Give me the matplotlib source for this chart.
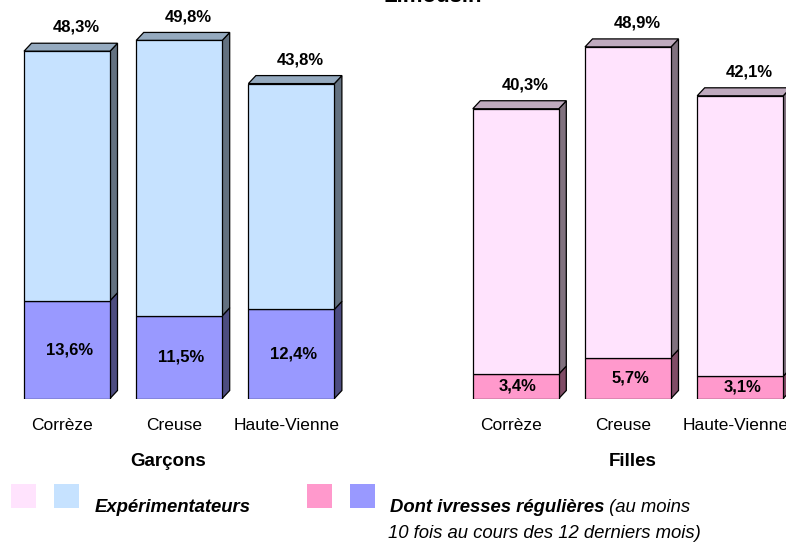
import matplotlib.pyplot as plt
from matplotlib.patches import Polygon, Rectangle

plt.rcParams['font.family'] = ['Liberation Sans', 'DejaVu Sans']

# Données : Limousin, expérimentateurs et ivresses régulières (en %)
departements = ['Corrèze', 'Creuse', 'Haute-Vienne']
garcons_exp = [48.3, 49.8, 43.8]
garcons_ivr = [13.6, 11.5, 12.4]
filles_exp = [40.3, 48.9, 42.1]
filles_ivr = [3.4, 5.7, 3.1]

pos_garcons = [0, 1, 2]
pos_filles = [4, 5, 6]

# couleurs face / côté / dessus
bleu = ('#C6E2FF', '#637180', '#95AABF')
violet = ('#9999FF', '#4C4C80', '#7373BF')
rose_clair = ('#FFE3FD', '#80717E', '#BFAABE')
rose = ('#FF99CC', '#804C66', '#BF7399')

W, H = 786, 543
fig = plt.figure(figsize=(W / 100, H / 100), dpi=100)

px_y = 7.19          # pixels par %
base = 398.5         # bas des barres (px depuis le haut)
pas = 112.2          # pixels entre deux barres
x0 = 67.0            # centre de la première barre
ax = fig.add_axes([0, (H - base) / H, 1, base / H])
ax.set_xlim(-x0 / pas, (W - x0) / pas)
ax.set_ylim(0, base / px_y)
ax.axis('off')

largeur = 86 / pas
dx = 7.5 / pas
dy = 8 / px_y


def barre3d(x, y0, y1, couleurs, dessus):
    face, cote, haut = couleurs
    ax.bar(x, y1 - y0, bottom=y0, width=largeur, color=face,
           edgecolor='black', linewidth=0.9, zorder=2)
    xr = x + largeur / 2
    xl = x - largeur / 2
    ax.add_patch(Polygon([(xr, y0), (xr + dx, y0 + dy), (xr + dx, y1 + dy), (xr, y1)],
                         closed=True, facecolor=cote, edgecolor='black',
                         linewidth=0.9, zorder=1))
    if dessus:
        ax.add_patch(Polygon([(xl, y1), (xl + dx, y1 + dy), (xr + dx, y1 + dy), (xr, y1)],
                             closed=True, facecolor=haut, edgecolor='black',
                             linewidth=0.9, zorder=1))


def groupe(positions, exp, ivr, c_exp, c_ivr):
    for x, e, i in zip(positions, exp, ivr):
        barre3d(x, 0, i, c_ivr, False)
        barre3d(x, i, e, c_exp, True)
        ax.text(x + 0.08, e + 3.3, f'{e:.1f}%'.replace('.', ','), ha='center',
                va='center', fontsize=12, fontweight='bold', clip_on=False)
        ax.text(x + 0.02, i / 2, f'{i:.1f}%'.replace('.', ','), ha='center',
                va='center', fontsize=12, fontweight='bold', zorder=3)
        ax.text(x - 0.045, -27.5 / px_y, departements[positions.index(x)],
                ha='center', va='center', fontsize=12.5, clip_on=False)


groupe(pos_garcons, garcons_exp, garcons_ivr, bleu, violet)
groupe(pos_filles, filles_exp, filles_ivr, rose_clair, rose)

ax.text(pos_garcons[1] - 0.1, -63.5 / px_y, 'Garçons', ha='center', va='center',
        fontsize=13.5, fontweight='bold', clip_on=False)
ax.text(pos_filles[1] + 0.04, -62.5 / px_y, 'Filles', ha='center', va='center',
        fontsize=13.5, fontweight='bold', clip_on=False)

# titre (rogné en haut)
fig.text(433 / W, 1 - 2.5 / H, 'Limousin', ha='center', va='baseline',
         fontsize=16, fontweight='bold')


# légende
def carre(xp, couleur):
    fig.add_artist(Rectangle((xp / W, 1 - 508 / H), 25 / W, 24 / H,
                             transform=fig.transFigure, facecolor=couleur,
                             edgecolor='none'))


carre(11, rose_clair[0])
carre(54, bleu[0])
carre(307, rose[0])
carre(350, violet[0])

fig.text(95 / W, 1 - 507 / H, 'Expérimentateurs', ha='left', va='center',
         fontsize=13.3, fontweight='bold', style='italic')
t1 = fig.text(390 / W, 1 - 507 / H, 'Dont ivresses régulières', ha='left',
              va='center', fontsize=13.3, fontweight='bold', style='italic')
fig.canvas.draw()
bb = t1.get_window_extent()
fig.text(bb.x1 / W, 1 - 507 / H, ' (au moins', ha='left', va='center',
         fontsize=13.3, style='italic')
fig.text(388 / W, 1 - 533 / H, '10 fois au cours des 12 derniers mois)',
         ha='left', va='center', fontsize=13.3, style='italic')

fig.savefig('out.png', dpi=100)
